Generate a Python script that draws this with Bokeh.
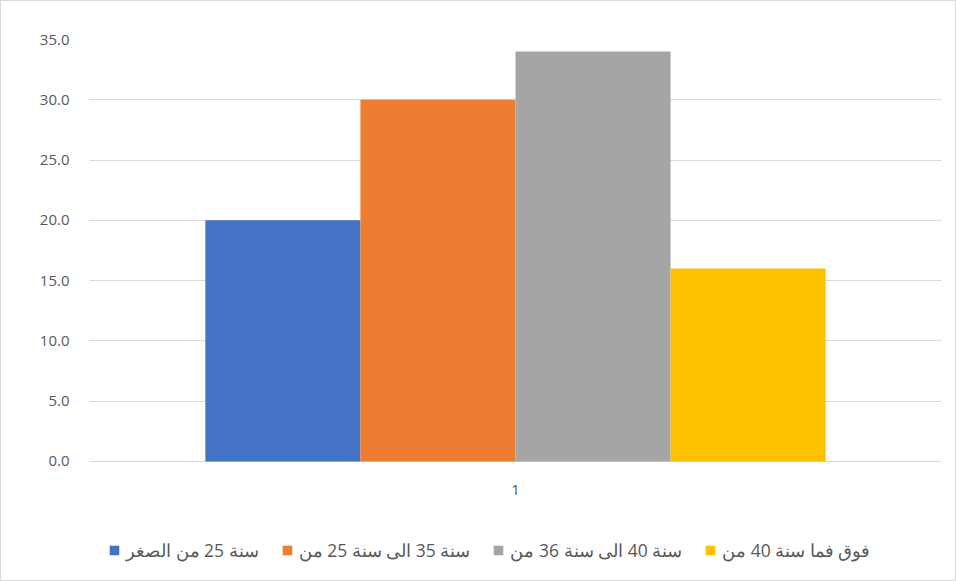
from bokeh.plotting import figure
from bokeh.models import Legend, LegendItem, NumeralTickFormatter, FixedTicker, Range1d, ColumnDataSource
from bokeh.core.properties import value
from bokeh.transform import dodge
from bokeh.embed import file_html
from bokeh.resources import INLINE

categories = ["1"]
series_labels = [
    "سنة 25 من الصغر",
    "سنة 35 الى سنة 25 من",
    "سنة 40 الى سنة 36 من",
    "فوق فما سنة 40 من",
]
series_values = [20.0, 30.0, 34.0, 16.0]
colors = ["#4472C4", "#ED7D31", "#A5A5A5", "#FFC000"]
y_ticks = [0, 5, 10, 15, 20, 25, 30, 35]

p = figure(x_range=categories, y_range=Range1d(-9.54, 35), width=956, height=581,
           output_backend="svg", toolbar_location=None,
           min_border_left=88, min_border_right=16, min_border_top=38, min_border_bottom=6)
p.styles = {"border": "1px solid #d9d9d9", "box-sizing": "border-box"}

bar_w = 0.182
offsets = [-1.5 * bar_w, -0.5 * bar_w, 0.5 * bar_w, 1.5 * bar_w]
items = []
for lab, val, col, off in zip(series_labels, series_values, colors, offsets):
    src = ColumnDataSource(dict(x=categories, top=[val]))
    r = p.vbar(x=dodge("x", off, range=p.x_range), top="top", width=bar_w, source=src,
               fill_color=col, line_color=None)
    items.append(LegendItem(label=lab, renderers=[r]))

# category label under the baseline
p.text(x=categories, y=[0] * len(categories), text=categories, y_offset=24,
       text_align="center", text_baseline="top", text_font=value("Open Sans"),
       text_font_size="15px", text_color="#595959")

p.outline_line_color = None
p.xgrid.grid_line_color = None
p.xaxis.visible = False
p.ygrid.grid_line_color = "#d9d9d9"
p.ygrid.grid_line_width = 1
p.yaxis.ticker = FixedTicker(ticks=y_ticks)
p.yaxis.formatter = NumeralTickFormatter(format="0.0")
p.yaxis.axis_line_color = None
p.yaxis.major_tick_line_color = None
p.yaxis.minor_tick_line_color = None
p.yaxis.major_label_text_font = "Open Sans"
p.yaxis.major_label_text_font_size = "15px"
p.yaxis.major_label_text_color = "#595959"
p.yaxis.major_label_standoff = 14

legend = Legend(items=items, orientation="horizontal", location=(19, 14),
                glyph_width=12, glyph_height=12, label_standoff=6, spacing=22,
                label_text_font="Open Sans", label_text_font_size="17.5px",
                label_text_color="#595959", border_line_color=None,
                background_fill_alpha=0, margin=0, padding=4)
p.add_layout(legend, "center")

open("out.html", "w").write(file_html(p, INLINE))
